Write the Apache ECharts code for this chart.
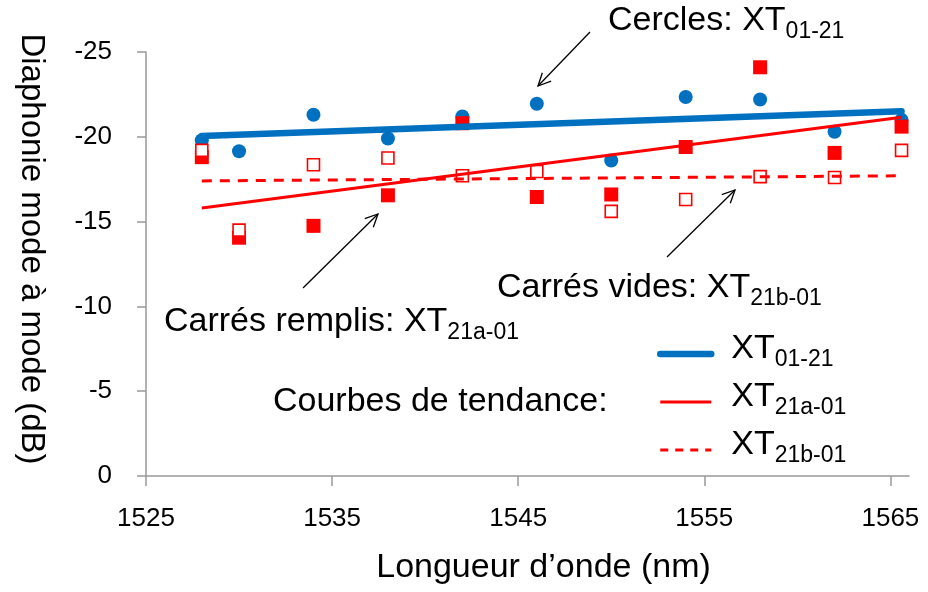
<!DOCTYPE html>
<html>
<head>
<meta charset="utf-8">
<script src="https://cdn.jsdelivr.net/npm/echarts@6/dist/echarts.min.js"></script>
<style>html,body{margin:0;padding:0;background:#fff}#c{width:928px;height:592px}</style>
</head>
<body>
<div id="c"></div>
<script>
// ---- data ----
const wavelengths = [1528, 1530, 1534, 1538, 1542, 1546, 1550, 1554, 1558, 1562, 1565.6];
const xt0121  = [-19.8, -19.15, -21.3, -19.9, -21.2, -21.95, -18.6, -22.35, -22.2, -20.3, -21.0];
const xt21a01 = [-18.8, -14.05, -14.75, -16.55, -20.8, -16.45, -16.6, -19.4, -24.1, -19.05, -20.6];
const xt21b01 = [-19.2, -14.5, -18.35, -18.75, -17.7, -17.95, -15.6, -16.3, -17.65, -17.6, -19.2];
const trendX = [1528, 1565.6];
const trend0121 = [-20.05, -21.5];
const trend21a = [-15.8, -21.15];
const trend21b = [-17.4, -17.7];
const xTickLabels = [1525, 1535, 1545, 1555, 1565];
const yTickLabels = [0, -5, -10, -15, -20, -25];

const pair = (xs, ys) => xs.map((x, i) => [x, ys[i]]);
const BLUE = '#0070C0', RED = '#FF0000';
const FONT = 'Liberation Sans, Arial, sans-serif';

const rich = {
  a: { fontSize: 34, lineHeight: 34, padding: [0, 0, 5, 0], verticalAlign: 'bottom', fontFamily: FONT, color: '#000' },
  b: { fontSize: 23, lineHeight: 23, verticalAlign: 'bottom', fontFamily: FONT, color: '#000' }
};

function txt(x, y, main, sub) {
  return {
    type: 'text', x: x, y: y, z: 100,
    style: { text: '{a|' + main + '}' + (sub ? '{b|' + sub + '}' : ''), rich: rich, fill: '#000' }
  };
}
function arrow(x1, y1, x2, y2) {
  const ang = Math.atan2(y2 - y1, x2 - x1), L = 14, w = 0.45;
  const p1 = [x2 - L * Math.cos(ang - w), y2 - L * Math.sin(ang - w)];
  const p2 = [x2 - L * Math.cos(ang + w), y2 - L * Math.sin(ang + w)];
  return [
    { type: 'line', z: 100, shape: { x1, y1, x2, y2 }, style: { stroke: '#000', lineWidth: 1.3 } },
    { type: 'polyline', z: 100, shape: { points: [p1, [x2, y2], p2] }, style: { stroke: '#000', lineWidth: 1.3, fill: null } }
  ];
}

const chart = echarts.init(document.getElementById('c'), null, { renderer: 'canvas' });
const axisColor = '#999999';
chart.setOption({
  animation: false,
  backgroundColor: '#fff',
  grid: { left: 146, right: 19, top: 52, bottom: 116 },
  xAxis: {
    type: 'value', min: 1525, max: 1566, interval: 10,
    name: 'Longueur d\u2019onde (nm)', nameLocation: 'middle', nameGap: 75,
    nameTextStyle: { fontSize: 34, fontFamily: FONT, color: '#000', padding: [0, 0, 0, 32] },
    axisLine: { onZero: false, lineStyle: { color: axisColor, width: 1.5 } },
    axisTick: { show: true, length: 10, customValues: xTickLabels, lineStyle: { color: axisColor, width: 1.5 } },
    axisLabel: { customValues: xTickLabels, margin: 30, fontSize: 26, fontFamily: FONT, color: '#000',
      formatter: v => String(v) },
    splitLine: { show: false }
  },
  yAxis: {
    type: 'value', min: -25, max: 0, interval: 5, inverse: true,
    name: 'Diaphonie mode \u00e0 mode (dB)', nameLocation: 'middle', nameGap: 98, nameRotate: -90,
    nameTextStyle: { fontSize: 33, fontFamily: FONT, color: '#000', padding: [0, 30, 0, 0] },
    axisLine: { show: true, lineStyle: { color: axisColor, width: 1.5 } },
    axisTick: { show: true, length: 9, customValues: yTickLabels, lineStyle: { color: axisColor, width: 1.5 } },
    axisLabel: { customValues: yTickLabels, margin: 34, fontSize: 26, fontFamily: FONT, color: '#000',
      formatter: v => String(v) },
    splitLine: { show: false }
  },
  legend: {
    orient: 'vertical', left: 657, top: 332, padding: 0,
    itemWidth: 51, itemHeight: 20, itemGap: 9,
    itemStyle: { opacity: 0 },
    data: [
      { name: 'XT01-21', lineStyle: { width: 6.5, cap: 'round' } },
      { name: 'XT21a-01', lineStyle: { width: 3 } },
      { name: 'XT21b-01', lineStyle: { width: 3, type: [8, 7] } }
    ],
    formatter: function (n) { return '{a|XT}{b|' + n.slice(2) + '}'; },
    textStyle: { rich: { a: Object.assign({}, rich.a, { padding: [0, 0, 5, 15] }), b: rich.b } }
  },
  series: [
    { name: 'Cercles', type: 'scatter', data: pair(wavelengths, xt0121), symbol: 'circle', symbolSize: 14,
      itemStyle: { color: BLUE, opacity: 1 }, z: 2 },
    { name: 'Carrés remplis', type: 'scatter', data: pair(wavelengths, xt21a01), symbol: 'rect', symbolSize: 14,
      itemStyle: { color: RED, opacity: 1 }, z: 3 },
    { name: 'Carrés vides', type: 'scatter', data: pair(wavelengths, xt21b01), symbol: 'rect', symbolSize: 12,
      itemStyle: { color: '#fff', borderColor: RED, borderWidth: 1.6, opacity: 1 }, z: 4 },
    { name: 'XT01-21', type: 'line', data: pair(trendX, trend0121), symbol: 'none', z: 5,
      lineStyle: { color: BLUE, width: 6.5, cap: 'round' }, itemStyle: { color: BLUE } },
    { name: 'XT21a-01', type: 'line', data: pair(trendX, trend21a), symbol: 'none', z: 6,
      lineStyle: { color: RED, width: 3 }, itemStyle: { color: RED } },
    { name: 'XT21b-01', type: 'line', data: pair(trendX, trend21b), symbol: 'none', z: 6,
      lineStyle: { color: RED, width: 3, type: [10, 8] }, itemStyle: { color: RED } }
  ],
  graphic: [
    txt(608, 9, 'Cercles: XT', '01-21'),
    txt(497, 276, 'Carrés vides: XT', '21b-01'),
    txt(164, 310, 'Carrés remplis: XT', '21a-01'),
    txt(273, 390, 'Courbes de tendance:', null),
    ...arrow(590, 32, 538, 86),
    ...arrow(303, 288, 378, 214),
    ...arrow(667, 257, 735, 190)
  ]
});
</script>
</body>
</html>
